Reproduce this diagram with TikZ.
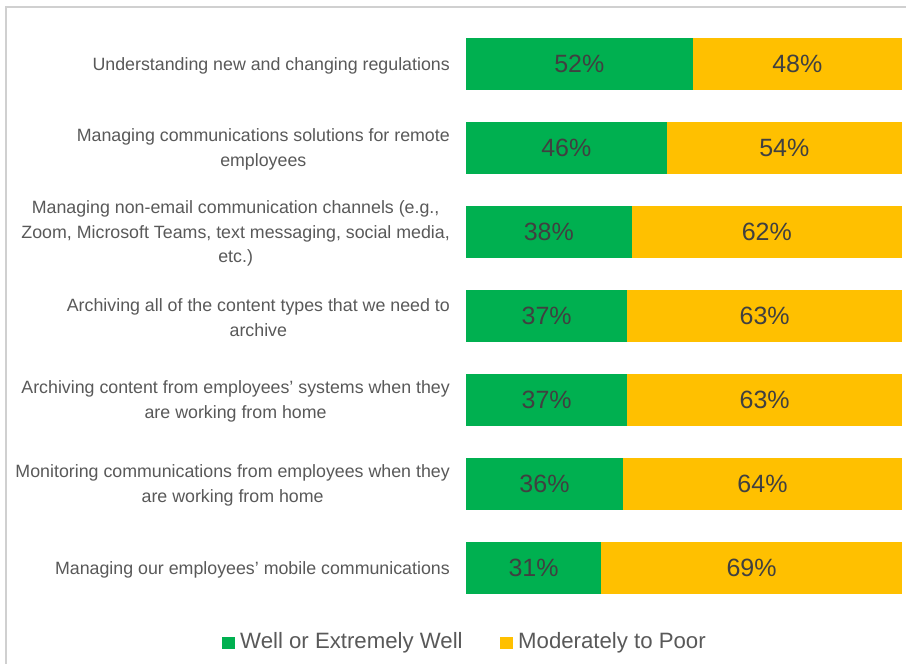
\documentclass[tikz,border=0pt]{standalone}
\usepackage{fontspec}
\setmainfont{Liberation Sans}
\definecolor{xgreen}{HTML}{00B050}
\definecolor{xyellow}{HTML}{FFC000}
\definecolor{labgray}{HTML}{595959}
\definecolor{valgray}{HTML}{404040}
\definecolor{framegray}{HTML}{D0D0D0}
\tikzset{
  catlabel/.style={anchor=east, inner sep=0pt, align=center, text=labgray,
    font=\fontsize{17.8}{24.5}\selectfont},
  vallabel/.style={inner sep=0pt, text=valgray, font=\fontsize{25}{30}\selectfont},
  greenbar/.style={fill=xgreen, draw=none},
  yellowbar/.style={fill=xyellow, draw=none},
  legtext/.style={anchor=west, inner sep=0pt, text=labgray, font=\fontsize{22.2}{26}\selectfont},
  legsq/.style={minimum size=12.5pt, inner sep=0pt, draw=none},
}
\begin{document}
\begin{tikzpicture}[x=1pt,y=-1pt]
\useasboundingbox (0,0) rectangle (906,664);
\fill[white] (0,0) rectangle (906,664);
\draw[framegray, line width=1.5pt] (6,664) -- (6,7) -- (906,7);
\foreach \i/\p/\lab in {
  0/52/{Understanding new and changing regulations},
  1/46/{Managing communications solutions for remote\\employees},
  2/38/{Managing non-email communication channels (e.g.,\\Zoom, Microsoft Teams, text messaging, social media,\\etc.)},
  3/37/{Archiving all of the content types that we need to\\archive},
  4/37/{Archiving content from employees’ systems when they\\are working from home},
  5/36/{Monitoring communications from employees when they\\are working from home},
  6/31/{Managing our employees’ mobile communications}}{
  \pgfmathsetmacro{\yt}{38+84*\i}
  \pgfmathsetmacro{\yc}{\yt+26}
  \pgfmathsetmacro{\xs}{466+4.36*\p}
  \pgfmathtruncatemacro{\q}{100-\p}
  \fill[greenbar] (466,\yt) rectangle (\xs,\yt+52);
  \fill[yellowbar] (\xs,\yt) rectangle (902,\yt+52);
  \node[vallabel] (g\i) at ({(466+\xs)/2},\yc) {\p\%};
  \node[vallabel] (y\i) at ({(\xs+902)/2},\yc) {\q\%};
  \node[catlabel] (c\i) at (450,\yc+1.5) {\lab};
}
\node[legsq, fill=xgreen] (sqg) at (228.5,643) {};
\node[legtext] (lg) at (240,643) {Well or Extremely Well};
\node[legsq, fill=xyellow] (sqy) at (506.5,643) {};
\node[legtext] (ly) at (518,643) {Moderately to Poor};
\end{tikzpicture}
\end{document}
